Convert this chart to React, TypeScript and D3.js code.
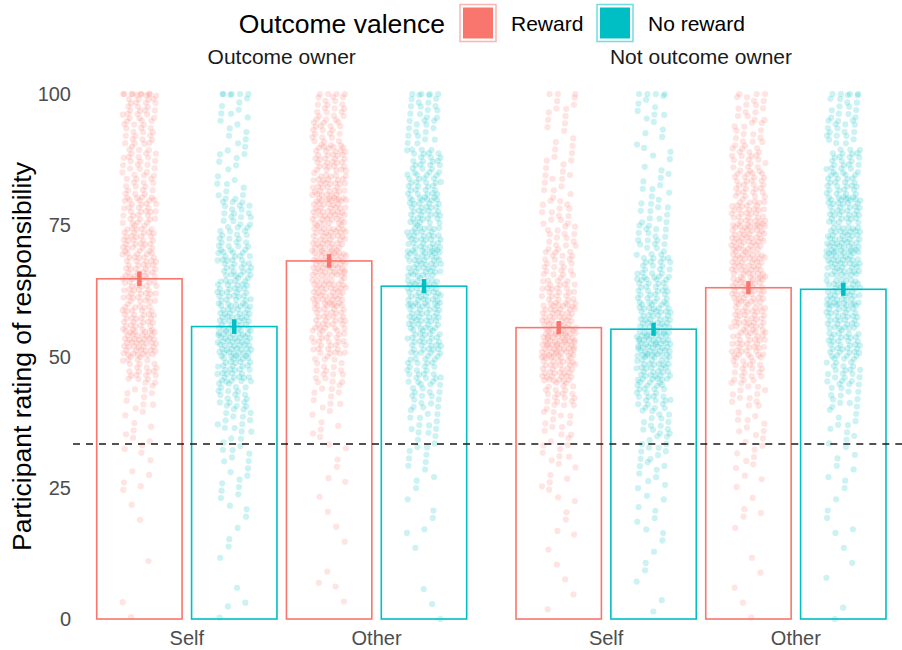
import React from "react";
import * as d3 from "d3";

const facets = ["Outcome owner", "Not outcome owner"];
const categories = ["Self", "Other"];
const valences = ["Reward", "No reward"];
const colors = ["#F8766D", "#00BFC4"];

// bar means, order: [facet][category]
const rewardMeans = [[64.8, 68.2], [55.5, 63.1]];
const noRewardMeans = [[55.7, 63.4], [55.2, 62.8]];
const rewardSE = [[1.4, 1.3], [1.25, 1.25]];
const noRewardSE = [[1.4, 1.35], [1.25, 1.25]];
const chanceLevel = 33.33;

// histograms of individual ratings, 5-point bins from 0 to 100
const histOOSelfReward = [2, 0, 1, 1, 2, 4, 6, 6, 10, 25, 45, 35, 35, 35, 35, 30, 22, 22, 22, 25];
const histOOSelfNoReward = [3, 1, 2, 3, 5, 6, 10, 14, 20, 35, 50, 40, 35, 30, 22, 18, 10, 8, 7, 8];
const histOOOtherReward = [1, 3, 1, 1, 2, 3, 4, 6, 10, 18, 30, 35, 45, 50, 45, 45, 40, 35, 22, 20];
const histOOOtherNoReward = [2, 1, 1, 3, 3, 5, 8, 12, 18, 25, 35, 38, 42, 42, 40, 35, 30, 25, 15, 15];
const histNOOSelfReward = [2, 1, 2, 3, 4, 6, 9, 12, 22, 40, 60, 42, 30, 22, 16, 14, 10, 8, 6, 8];
const histNOOSelfNoReward = [2, 2, 3, 4, 5, 8, 12, 15, 25, 40, 55, 40, 30, 25, 18, 12, 8, 6, 5, 8];
const histNOOOtherReward = [2, 2, 1, 2, 3, 5, 7, 9, 14, 22, 35, 38, 42, 45, 45, 38, 28, 22, 15, 14];
const histNOOOtherNoReward = [2, 1, 2, 3, 3, 4, 6, 8, 15, 22, 35, 38, 42, 45, 45, 38, 30, 25, 18, 14];
// number of ratings exactly at 100
const at100 = [[[8, 5], [4, 4]], [[3, 4], [3, 4]]]; // [facet][category][valence]

const hists = [
  [[histOOSelfReward, histOOSelfNoReward], [histOOOtherReward, histOOOtherNoReward]],
  [[histNOOSelfReward, histNOOSelfNoReward], [histNOOOtherReward, histNOOOtherNoReward]],
];

const W = 902, H = 650;
const panelX = [[73, 490.4], [492.3, 909.7]];
const yTop = 94, yBot = 619;
const yTicks = [0, 25, 50, 75, 100];

const frac = (v: number) => v - Math.floor(v);

export default function App() {
  const y = d3.scaleLinear().domain([0, 100]).range([yBot, yTop]);
  const xs = panelX.map((r) => d3.scaleLinear().domain([0.4, 2.6]).range(r));
  const dodge = [-0.25, 0.25];
  const barW = 0.45;
  const jit = 0.09;

  const pts: { x: number; y: number; c: string; k: string }[] = [];
  const bars: any[] = [];
  const errs: any[] = [];
  let k = 0;
  facets.forEach((f, fi) => {
    const x = xs[fi];
    categories.forEach((c, ci) => {
      valences.forEach((v, vi) => {
        const cx = ci + 1 + dodge[vi];
        const hist = hists[fi][ci][vi];
        hist.forEach((n, b) => {
          for (let i = 0; i < n; i++) {
            k++;
            const u = frac(0.5 + k * 0.7548776662);
            const w = frac(0.5 + k * 0.569840291);
            const val = Math.min(100, b * 5 + w * 5);
            pts.push({ x: x(cx + (u * 2 - 1) * jit), y: y(val), c: colors[vi], k: `p${k}` });
          }
        });
        for (let i = 0; i < at100[fi][ci][vi]; i++) {
          k++;
          const u = frac(0.5 + k * 0.7548776662);
          pts.push({ x: x(cx + (u * 2 - 1) * jit), y: y(100), c: colors[vi], k: `p${k}` });
        }
        const m = vi === 0 ? rewardMeans[fi][ci] : noRewardMeans[fi][ci];
        const se = vi === 0 ? rewardSE[fi][ci] : noRewardSE[fi][ci];
        bars.push({ x0: x(cx - barW / 2), x1: x(cx + barW / 2), y: y(m), c: colors[vi], k: `b${fi}${ci}${vi}` });
        errs.push({ x: x(cx), y0: y(m - se), y1: y(m + se), c: colors[vi], k: `e${fi}${ci}${vi}` });
      });
    });
  });

  const font = "'Liberation Sans', Arial, sans-serif";
  return (
    <svg width={W} height={H} style={{ position: "absolute", left: 0, top: 0, background: "#fff" }} fontFamily={font}>
      {/* legend */}
      <text x={445} y={33} fontSize={26.5} fill="#000" textAnchor="end">Outcome valence</text>
      {valences.map((v, i) => {
        const lx = [460, 597][i];
        const tx = [511, 648][i];
        return (
          <g key={v}>
            <rect x={lx} y={4.5} width={36} height={37} fill="#fff" stroke={colors[i]} strokeOpacity={0.55} strokeWidth={1.5} />
            <rect x={lx + 3} y={7.5} width={30} height={31} fill={colors[i]} />
            <text x={tx} y={30.5} fontSize={21} fill="#000">{v}</text>
          </g>
        );
      })}
      {/* facet strips */}
      {facets.map((f, fi) => (
        <text key={f} x={(panelX[fi][0] + panelX[fi][1]) / 2} y={64} fontSize={21} textAnchor="middle" fill="#1a1a1a">{f}</text>
      ))}
      {/* y axis */}
      {yTicks.map((t) => (
        <text key={t} x={71} y={y(t)} dy="0.36em" fontSize={20} textAnchor="end" fill="#4D4D4D">{t}</text>
      ))}
      <text transform={`translate(31,${(yTop + yBot) / 2}) rotate(-90)`} fontSize={26.5} textAnchor="middle" fill="#000">
        Participant rating of responsibility
      </text>
      {/* x axis labels */}
      {facets.map((f, fi) =>
        categories.map((c, ci) => (
          <text key={f + c} x={xs[fi](ci + 1)} y={645} fontSize={20} textAnchor="middle" fill="#4D4D4D">{c}</text>
        ))
      )}
      {/* points */}
      <g>
        {pts.map((p) => (
          <circle key={p.k} cx={p.x} cy={p.y} r={3.1} fill={p.c} fillOpacity={0.2} />
        ))}
      </g>
      {/* bars */}
      {bars.map((b) => (
        <rect key={b.k} x={b.x0} y={b.y} width={b.x1 - b.x0} height={yBot - b.y} fill="none" stroke={b.c} strokeWidth={1.6} />
      ))}
      {/* error bars */}
      {errs.map((e) => (
        <line key={e.k} x1={e.x} x2={e.x} y1={e.y0} y2={e.y1} stroke={e.c} strokeWidth={4.5} />
      ))}
      {/* chance line */}
      {panelX.map((r, i) => (
        <line key={i} x1={r[0]} x2={r[1]} y1={y(chanceLevel)} y2={y(chanceLevel)} stroke="#1a1a1a" strokeWidth={1.4} strokeDasharray="7 6" />
      ))}
    </svg>
  );
}
